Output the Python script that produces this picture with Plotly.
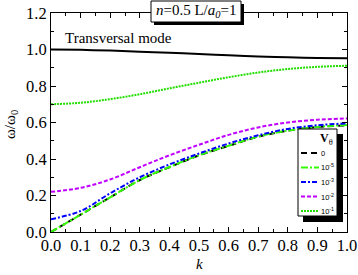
import plotly.graph_objects as go

k = [0.0, 0.1, 0.2, 0.3, 0.4, 0.5, 0.6, 0.7, 0.8, 0.9, 1.0]
transversal = [1.000, 0.998, 0.994, 0.988, 0.982, 0.975, 0.968, 0.962, 0.957, 0.954, 0.952]
v_0 = [0.000, 0.095, 0.190, 0.285, 0.355, 0.420, 0.472, 0.522, 0.555, 0.575, 0.585]
v_1e5 = [0.000, 0.095, 0.190, 0.285, 0.356, 0.421, 0.473, 0.523, 0.556, 0.576, 0.586]
v_1e3 = [0.070, 0.115, 0.212, 0.300, 0.370, 0.430, 0.485, 0.530, 0.565, 0.585, 0.595]
v_1e2 = [0.220, 0.242, 0.288, 0.355, 0.420, 0.478, 0.532, 0.573, 0.600, 0.615, 0.622]
v_1e1 = [0.700, 0.708, 0.728, 0.755, 0.787, 0.818, 0.848, 0.874, 0.893, 0.905, 0.911]

legend_labels = ["0", "10<sup>-5</sup>", "10<sup>-3</sup>", "10<sup>-2</sup>", "10<sup>-1</sup>"]
series = [v_0, v_1e5, v_1e3, v_1e2, v_1e1]
colors = ["#000000", "#33ff00", "#0000ff", "#c000ff", "#22dd00"]
dashes = ["6px,4px", "7px,2px,2px,2px", "5px,2px,2px,2px", "4px,2px", "2px,1px"]

SERIF = "Liberation Serif, Times New Roman, Times, serif"
SANS = "Liberation Sans, Arial, sans-serif"

fig = go.Figure()
fig.add_trace(go.Scatter(x=k, y=transversal, mode="lines", line=dict(color="black", width=2, shape="spline"),
                         showlegend=False))
for vals, c, d in zip(series, colors, dashes):
    fig.add_trace(go.Scatter(x=k, y=vals, mode="lines",
                             line=dict(color=c, width=2, dash=d, shape="spline"), showlegend=False))

L, R, T, B = 51, 347, 13, 232
W, H = 358, 275


def px(x):
    return (x - L) / (R - L)


def py(y):
    return (B - y) / (B - T)


shapes = []
annotations = []

# legend box with shadow
shapes.append(dict(type="rect", xref="paper", yref="paper", x0=px(303), x1=px(343), y0=py(222), y1=py(134),
                   fillcolor="black", line=dict(width=0), layer="above"))
shapes.append(dict(type="rect", xref="paper", yref="paper", x0=px(298), x1=px(337), y0=py(216), y1=py(129),
                   fillcolor="white", line=dict(color="black", width=1), layer="above"))
ys = [153, 167.5, 182, 196.5, 211]
for lab, c, d, yy in zip(legend_labels, colors, dashes, ys):
    shapes.append(dict(type="line", xref="paper", yref="paper", x0=px(301), x1=px(319), y0=py(yy), y1=py(yy),
                       line=dict(color=c, width=2, dash=d), layer="above"))
    annotations.append(dict(x=px(319.5), y=py(yy), xref="paper", yref="paper", text=lab, showarrow=False,
                            xanchor="left", yanchor="middle", borderpad=0,
                            font=dict(family=SANS, size=7.5, color="black")))
annotations.append(dict(x=px(335), y=py(139), xref="paper", yref="paper", text="<b>V</b><sub>θ</sub>",
                        showarrow=False, xanchor="right", yanchor="middle",
                        font=dict(family=SERIF, size=12, color="black")))

# top annotation box with shadow
shapes.append(dict(type="rect", xref="paper", yref="paper", x0=px(154), x1=px(244), y0=py(25), y1=py(4),
                   fillcolor="black", line=dict(width=0), layer="above"))
shapes.append(dict(type="rect", xref="paper", yref="paper", x0=px(151), x1=px(241), y0=py(22), y1=py(1),
                   fillcolor="white", line=dict(color="black", width=1), layer="above"))
annotations.append(dict(x=px(196), y=py(11.5), xref="paper", yref="paper",
                        text="<i>n</i>=0.5 L/<i>a</i><sub><i>0</i></sub>=1", showarrow=False,
                        xanchor="center", yanchor="middle", font=dict(family=SERIF, size=15, color="black")))

annotations.append(dict(x=0.04, y=1.0, xref="x", yref="y", text="Transversal mode", showarrow=False,
                        xanchor="left", yanchor="bottom", yshift=2, font=dict(family=SERIF, size=15, color="black")))
annotations.append(dict(x=px(11), y=py(125), xref="paper", yref="paper", text="ω/ω<sub>0</sub>", showarrow=False,
                        textangle=-90, xanchor="center", yanchor="middle",
                        font=dict(family=SERIF, size=15, color="black")))
annotations.append(dict(x=px(199), y=py(264), xref="paper", yref="paper", text="<i>k</i>", showarrow=False,
                        xanchor="center", yanchor="middle", font=dict(family=SERIF, size=15, color="black")))

axis_common = dict(showgrid=False, zeroline=False, showline=True, linecolor="black", linewidth=1,
                   mirror="allticks", ticks="inside", tickcolor="black", ticklen=5, tickwidth=1,
                   automargin=False, tickfont=dict(family=SERIF, size=16.5, color="black"))
fig.update_layout(
    width=W, height=H, margin=dict(l=L, r=W - R, t=T, b=H - B, autoexpand=False),
    paper_bgcolor="white", plot_bgcolor="white", showlegend=False,
    font=dict(family=SERIF),
    xaxis=dict(range=[0, 1], tickvals=[i / 10 for i in range(11)], ticktext=[f"{i/10:.1f}" for i in range(11)],
               minor=dict(ticks="inside", ticklen=3, dtick=0.05, tickcolor="black", showgrid=False),
               ticklabelstandoff=-2, **axis_common),
    yaxis=dict(range=[0, 1.2], tickvals=[0, 0.2, 0.4, 0.6, 0.8, 1.0, 1.2],
               ticktext=["0.0", "0.2", "0.4", "0.6", "0.8", "1.0", "1.2"],
               minor=dict(ticks="inside", ticklen=3, dtick=0.1, tickcolor="black", showgrid=False),
               **axis_common),
    shapes=shapes, annotations=annotations,
)
fig.write_html("out.html", config={"displayModeBar": False},
               post_script="document.body.style.margin='0';document.body.style.padding='0';")
